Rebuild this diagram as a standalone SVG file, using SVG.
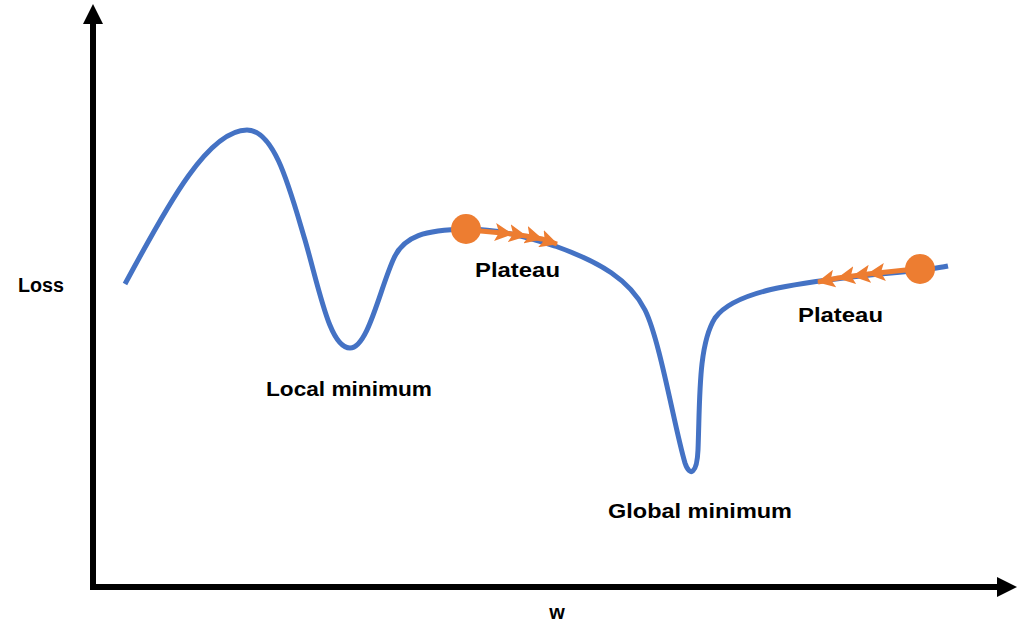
<svg xmlns="http://www.w3.org/2000/svg" width="1032" height="632" viewBox="0 0 1032 632">
<style>
.lbl{font-family:"Liberation Sans",Arial,sans-serif;font-weight:bold;font-size:20px;fill:#000}
.curve{fill:none;stroke:#4472C4;stroke-width:5;stroke-linecap:butt}
.axis{fill:none;stroke:#000;stroke-width:6}
.grad{fill:none;stroke:#ED7D31;stroke-width:5}
</style>
<defs>
<marker id="axhead" markerUnits="userSpaceOnUse" markerWidth="20" markerHeight="20" viewBox="0 0 18 18" refX="0" refY="9" orient="auto">
<path d="M0,0 L18,9 L0,18 Z" fill="#000"/>
</marker>
<marker id="ohead" markerUnits="userSpaceOnUse" markerWidth="18" markerHeight="18" viewBox="0 0 18 18" refX="17" refY="9" orient="auto">
<path d="M0,0 L18,9 L0,18 L4,9 Z" fill="#ED7D31"/>
</marker>
</defs>
<g id="axes">
<line class="axis" x1="93" y1="590" x2="93" y2="24" marker-end="url(#axhead)"/>
<line class="axis" x1="90" y1="587" x2="997" y2="587" marker-end="url(#axhead)"/>
</g>
<g id="loss-curve">
<path class="curve" d="M125,284 C160,220 205,130 247,130 C275,130 290,190 305,240 C320,292 330,348 350,348 C368,348 380,288 394,258 C404,236 425,230 466,229 C500,229 530,238 555,246 C600,262 630,280 645,310 C660,340 675,430 685,463 C690,478 697,473 698,450 C700,400 698,345 715,318 C735,290 800,283 860,276 C900,272 930,270 948,266"/>
</g>
<g id="connectors">
<path class="grad" d="M470,230 L512,234 L526,236 L542,239 L557,244" marker-mid="url(#ohead)" marker-end="url(#ohead)"/>
<path class="grad" d="M915,269 L868,274 L853,276 L838,278 L818,282" marker-mid="url(#ohead)" marker-end="url(#ohead)"/>
</g>
<g id="dot-plateau-1"><circle cx="466" cy="229" r="15" fill="#ED7D31"/></g>
<g id="dot-plateau-2"><circle cx="920" cy="269" r="15" fill="#ED7D31"/></g>
<g id="labels">
<text class="lbl" x="18" y="292" textLength="46" lengthAdjust="spacingAndGlyphs">Loss</text>
<text class="lbl" x="557" y="619" text-anchor="middle">w</text>
<text class="lbl" x="475" y="277" textLength="85" lengthAdjust="spacingAndGlyphs">Plateau</text>
<text class="lbl" x="266" y="396" textLength="166" lengthAdjust="spacingAndGlyphs">Local minimum</text>
<text class="lbl" x="608" y="518" textLength="184" lengthAdjust="spacingAndGlyphs">Global minimum</text>
<text class="lbl" x="798" y="322" textLength="85" lengthAdjust="spacingAndGlyphs">Plateau</text>
</g>
</svg>
